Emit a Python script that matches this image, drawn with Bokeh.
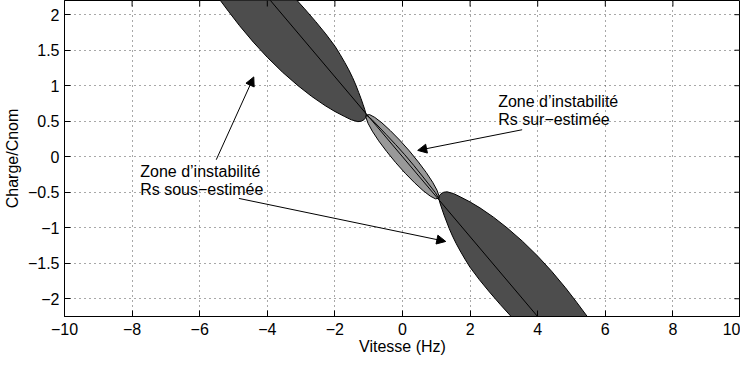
from math import pi
from bokeh.plotting import figure
from bokeh.models import ColumnDataSource, Arrow, NormalHead, FixedTicker, Range1d
from bokeh.core.properties import value
from bokeh.embed import file_html
from bokeh.resources import INLINE

# ---------------- data ----------------
x_ticks = [-10, -8, -6, -4, -2, 0, 2, 4, 6, 8, 10]
x_tick_labels = ["\u221210", "\u22128", "\u22126", "\u22124", "\u22122", "0", "2", "4", "6", "8", "10"]
y_ticks = [-2.0, -1.5, -1.0, -0.5, 0.0, 0.5, 1.0, 1.5, 2.0]
y_tick_labels = ["\u22122", "\u22121.5", "\u22121", "\u22120.5", "0", "0.5", "1", "1.5", "2"]
x_limits = [-10, 10]
y_limits = [-2.25, 2.2]

# upper dark zone (Rs sous-estimée): left / lower edge, then right edge back up
upper_lobe_x = [-5.862, -5.479, -5.150, -4.821, -4.412, -4.000, -3.547, -3.091, -2.691,
                -2.291, -2.000, -1.709, -1.515, -1.321, -1.221, -1.141, -1.091, -1.071,
                -1.118, -1.168, -1.229, -1.297, -1.382, -1.479, -1.588, -1.709, -1.847,
                -1.994, -2.271, -2.574, -2.894, -3.229, -3.735]
upper_lobe_y = [2.511, 2.258, 2.048, 1.845, 1.613, 1.400, 1.189, 1.000, 0.851,
                0.720, 0.637, 0.565, 0.520, 0.494, 0.500, 0.520, 0.549, 0.586,
                0.666, 0.737, 0.821, 0.906, 1.011, 1.117, 1.223, 1.328, 1.441,
                1.554, 1.730, 1.906, 2.082, 2.258, 2.511]
# lower dark zone (Rs sous-estimée)
lower_lobe_x = [5.862, 5.479, 5.150, 4.821, 4.412, 4.000, 3.547, 3.091, 2.691,
                2.291, 2.000, 1.709, 1.515, 1.321, 1.221, 1.141, 1.091, 1.071,
                1.118, 1.168, 1.229, 1.297, 1.382, 1.479, 1.588, 1.709, 1.847,
                1.994, 2.271, 2.574, 2.894, 3.229, 3.735]
lower_lobe_y = [-2.511, -2.258, -2.048, -1.845, -1.613, -1.400, -1.189, -1.000, -0.851,
                -0.720, -0.637, -0.565, -0.520, -0.494, -0.500, -0.520, -0.549, -0.586,
                -0.666, -0.737, -0.821, -0.906, -1.011, -1.117, -1.223, -1.328, -1.441,
                -1.554, -1.730, -1.906, -2.082, -2.258, -2.511]
# middle light zone (Rs sur-estimée)
middle_lobe_x = [1.071, 1.078, 1.020, 0.893, 0.705, 0.469, 0.201, -0.081, -0.358, -0.609,
                 -0.820, -0.974, -1.071, -1.078, -1.020, -0.893, -0.705, -0.469, -0.201,
                 0.081, 0.358, 0.609, 0.820, 0.974]
middle_lobe_y = [-0.586, -0.550, -0.471, -0.360, -0.224, -0.074, 0.083, 0.233, 0.367, 0.477,
                 0.554, 0.593, 0.586, 0.550, 0.471, 0.360, 0.224, 0.074, -0.083,
                 -0.233, -0.367, -0.477, -0.554, -0.593]
# centre line of the zones
centre_line_x = [-4.44, 4.44]
centre_line_y = [2.50, -2.50]
# second boundary line inside the light zone
inner_line_x = [-1.071, -0.908, -0.485, -0.205, 0.067, 0.331, 0.586, 0.966, 1.071]
inner_line_y = [0.586, 0.525, 0.314, 0.172, 0.028, -0.121, -0.272, -0.501, -0.586]

# annotations
arrow_x_start = [-5.51, -4.84, 3.54]
arrow_y_start = [-0.042, -0.587, 0.38]
arrow_x_end = [-4.40, 1.28, 0.45]
arrow_y_end = [1.124, -1.193, 0.089]

label_x = [-7.76, -7.76, 2.83, 2.83]
label_y = [-0.207, -0.465, 0.775, 0.525]
label_text = ["Zone d\u2019instabilit\u00e9", "Rs sous\u2212estim\u00e9e",
              "Zone d\u2019instabilit\u00e9", "Rs sur\u2212estim\u00e9e"]

FONT = "Liberation Sans"

# ---------------- figure ----------------
p = figure(width=740, height=359, output_backend="svg", toolbar_location=None,
           x_range=Range1d(*x_limits), y_range=Range1d(*y_limits),
           min_border_left=60, min_border_right=0, min_border_top=0, min_border_bottom=43)
p.background_fill_color = "white"
p.border_fill_color = "white"
p.outline_line_color = "black"
p.outline_line_width = 1
p.outline_line_alpha = 1

for ax, ticks, labels in ((p.xaxis[0], x_ticks, x_tick_labels), (p.yaxis[0], y_ticks, y_tick_labels)):
    ax.ticker = FixedTicker(ticks=ticks, minor_ticks=[])
    ax.major_label_overrides = {t: l for t, l in zip(ticks, labels)}
    ax.major_tick_in = 6
    ax.major_tick_out = 0
    ax.minor_tick_in = 0
    ax.minor_tick_out = 0
    ax.axis_line_color = "black"
    ax.major_tick_line_color = "black"
    ax.major_label_text_font = FONT
    ax.major_label_text_font_size = "16px"
    ax.major_label_text_color = "black"
    ax.axis_label_text_font = FONT
    ax.axis_label_text_font_size = "16px"
    ax.axis_label_text_font_style = "normal"
    ax.axis_label_text_color = "black"

p.xaxis.axis_label = "Vitesse (Hz)"
p.yaxis.axis_label = "Charge/Cnom"
p.xaxis.major_label_standoff = 6
p.xaxis.axis_label_standoff = 0
p.yaxis.major_label_standoff = 5
p.yaxis.axis_label_standoff = 4

for g in (p.xgrid[0], p.ygrid[0]):
    g.grid_line_color = "#505050"
    g.grid_line_dash = "1 4"
    g.grid_line_width = 1

# zones
p.patch(upper_lobe_x, upper_lobe_y, fill_color="#4d4d4d", line_color="black", line_width=1)
p.patch(lower_lobe_x, lower_lobe_y, fill_color="#4d4d4d", line_color="black", line_width=1)
p.patch(middle_lobe_x, middle_lobe_y, fill_color="#999999", line_color="black", line_width=1)
p.line(centre_line_x, centre_line_y, line_color="black", line_width=1)
p.line(inner_line_x, inner_line_y, line_color="black", line_width=1)

# arrows
arrow_src = ColumnDataSource(dict(x0=arrow_x_start, y0=arrow_y_start, x1=arrow_x_end, y1=arrow_y_end))
p.add_layout(Arrow(end=NormalHead(size=9, fill_color="black", line_color="black", line_width=1),
                   x_start="x0", y_start="y0", x_end="x1", y_end="y1",
                   line_color="black", line_width=1, source=arrow_src))

# texts
p.text(x=label_x, y=label_y, text=label_text, text_font=value(FONT), text_font_size="16px",
       text_color="black", text_align="left", text_baseline="alphabetic")

# ticks on the top and right sides of the box (half of each dash is clipped by the frame)
p.scatter(x=[x_limits[1]] * len(y_ticks), y=y_ticks, marker="dash", size=12,
          line_color="black", line_width=1)
p.scatter(x=x_ticks, y=[y_limits[1]] * len(x_ticks), marker="dash", size=12, angle=pi / 2,
          line_color="black", line_width=1)

open("out.html", "w").write(file_html(p, INLINE))
